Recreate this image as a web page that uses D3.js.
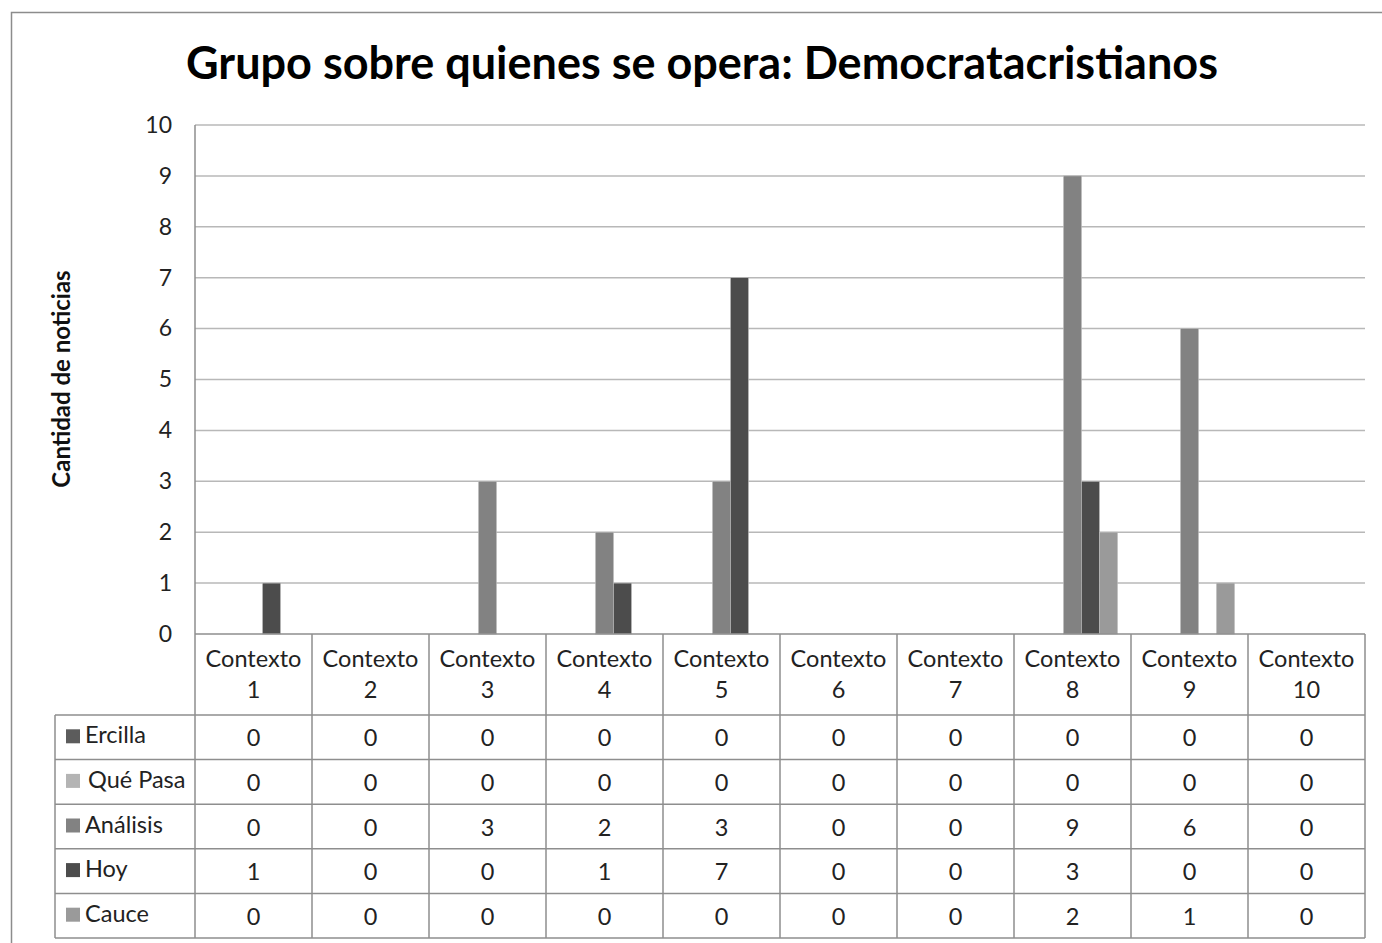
<!DOCTYPE html>
<html>
<head>
<meta charset="utf-8">
<script src="https://cdn.jsdelivr.net/npm/d3@7"></script>
<style>
  html, body { margin: 0; padding: 0; background: #fff; }
  svg { display: block; }
  text { font-family: Lato, "Open Sans", sans-serif; fill: #222; }
</style>
</head>
<body>
<svg id="chart" width="1382" height="943"></svg>
<script>
// Categories and series
const categories = ["Contexto 1","Contexto 2","Contexto 3","Contexto 4","Contexto 5",
                    "Contexto 6","Contexto 7","Contexto 8","Contexto 9","Contexto 10"];
const seriesNames = ["Ercilla", "Qué Pasa", "Análisis", "Hoy", "Cauce"];
const ercilla  = [0, 0, 0, 0, 0, 0, 0, 0, 0, 0];
const quePasa  = [0, 0, 0, 0, 0, 0, 0, 0, 0, 0];
const analisis = [0, 0, 3, 2, 3, 0, 0, 9, 6, 0];
const hoy      = [1, 0, 0, 1, 7, 0, 0, 3, 0, 0];
const cauce    = [0, 0, 0, 0, 0, 0, 0, 2, 1, 0];
const yTicks   = [0, 1, 2, 3, 4, 5, 6, 7, 8, 9, 10];
const seriesColors = ["#5c5c5c", "#b4b4b4", "#828282", "#4c4c4c", "#9a9a9a"];

const seriesValues = [ercilla, quePasa, analisis, hoy, cauce];

const svg = d3.select("#chart");

// Outer frame
svg.append("rect")
  .attr("x", 11.5).attr("y", 12.5)
  .attr("width", 1400).attr("height", 1000)
  .attr("fill", "#fff")
  .attr("stroke", "#8c8c8c").attr("stroke-width", 1.5);

// Layout
const plotLeft = 195, plotRight = 1365, plotTop = 125, plotBottom = 634;
const headerBottom = 715;
const rowH = 44.6;
const legendLeft = 55;
const bodyFont = "23.5px";

const x = d3.scaleBand().domain(categories).range([plotLeft, plotRight]).paddingInner(0).paddingOuter(0);
const y = d3.scaleLinear().domain([0, 10]).range([plotBottom, plotTop]);

// Inner band for the grouped bars (gap width ~150%)
const gapRatio = 1.5;
const groupW = x.bandwidth() * seriesNames.length / (seriesNames.length + gapRatio);
const xs = d3.scaleBand().domain(seriesNames).range([0, groupW]);

// Title
svg.append("text")
  .attr("x", 702).attr("y", 79)
  .attr("text-anchor", "middle")
  .style("font-size", "45px").style("font-weight", "bold")
  .style("fill", "#000")
  .text("Grupo sobre quienes se opera: Democratacristianos");

// Gridlines
svg.append("g").selectAll("line")
  .data(yTicks.filter(d => d > 0))
  .join("line")
  .attr("x1", plotLeft).attr("x2", plotRight)
  .attr("y1", d => y(d)).attr("y2", d => y(d))
  .attr("stroke", "#b8b8b8").attr("stroke-width", 1.5);

// Y axis
const yAxis = d3.axisLeft(y).tickValues(yTicks).tickSize(0).tickPadding(23);
const gy = svg.append("g").attr("transform", `translate(${plotLeft},0)`).call(yAxis);
gy.select(".domain").remove();
gy.selectAll("text").style("font-size", "23px").style("fill", "#222")
  .style("font-family", "Lato, 'Open Sans', sans-serif");

// Y axis title
svg.append("text")
  .attr("transform", "translate(70,379) rotate(-90)")
  .attr("text-anchor", "middle")
  .style("font-size", "24px").style("font-weight", "bold").style("fill", "#111")
  .text("Cantidad de noticias");

// Bars
const groups = svg.append("g").selectAll("g")
  .data(categories)
  .join("g")
  .attr("transform", d => `translate(${x(d) + (x.bandwidth() - groupW) / 2},0)`);

groups.selectAll("rect")
  .data((c, i) => seriesNames.map((s, k) => ({ s, k, v: seriesValues[k][i] })).filter(d => d.v > 0))
  .join("rect")
  .attr("x", d => xs(d.s))
  .attr("width", xs.bandwidth())
  .attr("y", d => y(d.v))
  .attr("height", d => y(0) - y(d.v))
  .attr("fill", d => seriesColors[d.k])
  .attr("stroke", "#bdbdbd").attr("stroke-width", 0.6);

// Data table
const tableBottom = headerBottom + rowH * seriesNames.length;
const lineColor = "#8e8e8e";
const tbl = svg.append("g");

// vertical axis line through header and table
tbl.append("line")
  .attr("x1", plotLeft).attr("x2", plotLeft)
  .attr("y1", plotTop).attr("y2", tableBottom)
  .attr("stroke", lineColor).attr("stroke-width", 1.5);

// header top line (category axis)
tbl.append("line")
  .attr("x1", plotLeft).attr("x2", plotRight)
  .attr("y1", plotBottom).attr("y2", plotBottom)
  .attr("stroke", lineColor).attr("stroke-width", 1.5);

// category separators
tbl.selectAll(".sep")
  .data(categories)
  .join("line")
  .attr("x1", d => x(d) + x.bandwidth()).attr("x2", d => x(d) + x.bandwidth())
  .attr("y1", plotBottom).attr("y2", tableBottom)
  .attr("stroke", lineColor).attr("stroke-width", 1.5);

// horizontal row lines
const rowLines = d3.range(seriesNames.length + 1).map(i => headerBottom + i * rowH);
tbl.selectAll(".row")
  .data(rowLines)
  .join("line")
  .attr("x1", legendLeft).attr("x2", plotRight)
  .attr("y1", d => d).attr("y2", d => d)
  .attr("stroke", lineColor).attr("stroke-width", 1.5);

// legend column left edge
tbl.append("line")
  .attr("x1", legendLeft).attr("x2", legendLeft)
  .attr("y1", headerBottom).attr("y2", tableBottom)
  .attr("stroke", lineColor).attr("stroke-width", 1.5);

// header labels
const hdr = tbl.selectAll(".hdr")
  .data(categories)
  .join("text")
  .attr("text-anchor", "middle")
  .style("font-size", bodyFont).style("fill", "#222");
hdr.append("tspan")
  .attr("x", d => x(d) + x.bandwidth() / 2).attr("y", 667)
  .text(d => d.split(" ")[0]);
hdr.append("tspan")
  .attr("x", d => x(d) + x.bandwidth() / 2).attr("y", 698)
  .text(d => d.split(" ")[1]);

// legend entries
seriesNames.forEach((s, k) => {
  const cy = headerBottom + k * rowH + rowH / 2;
  tbl.append("rect")
    .attr("x", 66).attr("y", cy - 8).attr("width", 14).attr("height", 14)
    .attr("fill", seriesColors[k]);
  tbl.append("text")
    .attr("x", s === "Qué Pasa" ? 88 : 85).attr("y", cy + 6)
    .style("font-size", bodyFont).style("fill", "#222")
    .text(s);
  // values
  tbl.selectAll(null)
    .data(categories)
    .join("text")
    .attr("x", d => x(d) + x.bandwidth() / 2)
    .attr("y", cy + 9)
    .attr("text-anchor", "middle")
    .style("font-size", bodyFont).style("fill", "#222")
    .text((d, i) => seriesValues[k][i]);
});
</script>
</body>
</html>
